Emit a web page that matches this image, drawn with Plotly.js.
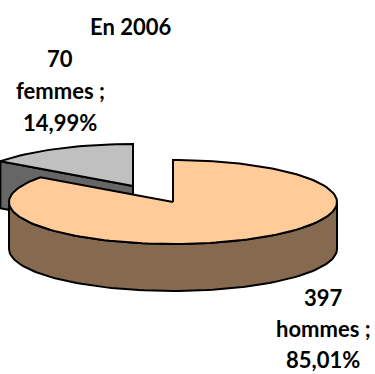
<!DOCTYPE html>
<html>
<head>
<meta charset="utf-8">
<script src="https://cdn.plot.ly/plotly-3.0.1.min.js"></script>
<style>html,body{margin:0;padding:0;background:#fff;overflow:hidden}#chart{width:375px;height:374px}</style>
</head>
<body>
<div id="chart"></div>
<script>
const chartTitle = "En 2006";
const categories = ["hommes", "femmes"];
const counts = [397, 70];
const shareLabels = ["85,01%", "14,99%"];

const topColors = ["#FFCC99", "#C0C0C0"];
const sideColors = ["#866A50", "#666666"];
const font = "Lato, 'Open Sans', sans-serif";
const fs = 22;

// Projection of the tilted disc, in pixel-like axis units
const RX = 164, RY = 42, DEPTH = 47;
const centerMain = [173, 202];
const centerSlice = [133, 186];

const total = counts[0] + counts[1];
const splitDeg = 360 * counts[0] / total;

function pt(c, deg, drop) {
  const a = deg * Math.PI / 180;
  return [c[0] + RX * Math.sin(a), c[1] - RY * Math.cos(a) + (drop || 0)];
}
function arc(c, from, to, drop) {
  const out = [], n = Math.max(2, Math.ceil(Math.abs(to - from) / 2));
  for (let i = 0; i <= n; i++) out.push(pt(c, from + (to - from) * i / n, drop));
  return out;
}
function poly(points, fill) {
  const closed = points.concat([points[0]]);
  return {
    type: "scatter", mode: "lines",
    x: closed.map(p => p[0]), y: closed.map(p => p[1]),
    fill: "toself", fillcolor: fill,
    line: {color: "#000", width: 2, shape: "linear"},
    hoverinfo: "skip", showlegend: false
  };
}

const traces = [
  // femmes: cut face, then top
  poly([centerSlice, pt(centerSlice, splitDeg),
        pt(centerSlice, splitDeg, DEPTH), [centerSlice[0], centerSlice[1] + DEPTH]], sideColors[1]),
  poly([centerSlice].concat(arc(centerSlice, splitDeg, 360)), topColors[1]),
  // hommes: rim, then top
  poly(arc(centerMain, 90, 270).concat(arc(centerMain, 270, 90, DEPTH)), sideColors[0]),
  poly([centerMain].concat(arc(centerMain, 0, splitDeg)), topColors[0])
];

function labelLines(i) {
  return [String(counts[i]), categories[i] + " ;", shareLabels[i]];
}
const labelX = [323, 60];
const labelY = [297, 58];
const lineGaps = [31, 32];
const annotations = [{text: chartTitle, x: 130, y: 26}];
[0, 1].forEach(i => labelLines(i).forEach((t, k) => {
  annotations.push({text: t, x: labelX[i], y: labelY[i] + k * lineGaps[i]});
}));
annotations.forEach(a => Object.assign(a, {
  xref: "x", yref: "y", showarrow: false, xanchor: "center", yanchor: "middle",
  font: {family: font, size: fs, color: "#000", weight: 700}
}));
annotations.forEach(a => { a.text = "<b>" + a.text + "</b>"; });

const layout = {
  width: 375, height: 374,
  margin: {l: 0, r: 0, t: 0, b: 0},
  paper_bgcolor: "#fff", plot_bgcolor: "#fff",
  xaxis: {range: [0, 375], visible: false, fixedrange: true},
  yaxis: {range: [374, 0], visible: false, fixedrange: true},
  annotations: annotations,
  showlegend: false
};
Plotly.newPlot("chart", traces, layout, {displayModeBar: false, staticPlot: true});
</script>
</body>
</html>
